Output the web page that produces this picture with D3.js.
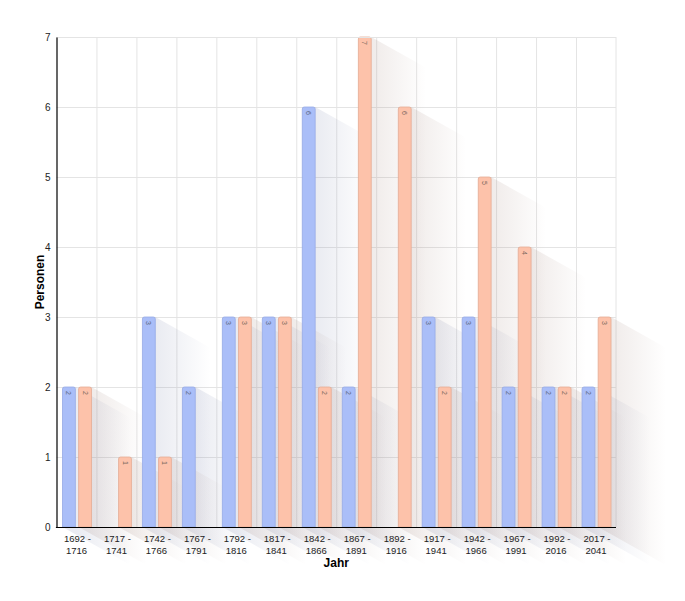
<!DOCTYPE html>
<html>
<head>
<meta charset="utf-8">
<script src="https://cdn.jsdelivr.net/npm/d3@7"></script>
<style>
body{margin:0;background:#fff;}
text{font-family:"Liberation Sans",Arial,sans-serif;}
</style>
</head>
<body>
<svg id="chart" width="685" height="601"></svg>
<script>
var categories=[['1692 -','1716'],['1717 -','1741'],['1742 -','1766'],['1767 -','1791'],
    ['1792 -','1816'],['1817 -','1841'],['1842 -','1866'],['1867 -','1891'],['1892 -','1916'],
    ['1917 -','1941'],['1942 -','1966'],['1967 -','1991'],['1992 -','2016'],['2017 -','2041']];
var seriesA=[2,null,3,2,3,3,6,2,null,3,3,2,2,2];
var seriesB=[2,1,1,null,3,3,2,7,6,2,5,4,2,3];
var yTicks=[0,1,2,3,4,5,6,7];

(function() {
var series=[
    {values:seriesA,fill:'#aabef8',stroke:'#97abe6',shadow:'rgb(120,130,170)',label:'#5a6680'},
    {values:seriesB,fill:'#fdc2aa',stroke:'#e4ac95',shadow:'rgb(160,130,120)',label:'#806a60'}
];

var svg=d3.select('#chart');
var pLeft=56.5, pRight=616, pTop=37, pBottom=527;

var x0=d3.scaleBand().domain(d3.range(categories.length)).range([pLeft,pRight]).padding(0);
var x1=d3.scaleBand().domain([0,1]).range([6,35]).paddingInner(0.2);
var y=d3.scaleLinear().domain([0,7]).range([pBottom,pTop]);

var defs=svg.append('defs');

// grid
var grid=svg.append('g');
grid.selectAll('line.h').data(yTicks.slice(1)).enter().append('line')
    .attr('x1',pLeft).attr('x2',pRight)
    .attr('y1',function(d){return y(d)+0.5;}).attr('y2',function(d){return y(d)+0.5;})
    .style('stroke','#e4e4e4');
grid.selectAll('line.v').data(d3.range(1,categories.length+1)).enter().append('line')
    .attr('x1',function(d){return d<categories.length?x0(d)+0.5:pRight;})
    .attr('x2',function(d){return d<categories.length?x0(d)+0.5:pRight;})
    .attr('y1',pTop).attr('y2',pBottom)
    .style('stroke','#e4e4e4');

// shadows
var dx=100, dy=56;
var shadows=svg.append('g');
var bars=svg.append('g');
series.forEach(function(s,si) {
    s.values.forEach(function(v,i) {
        if (v===null) return;
        var xl=x0(i)+x1(si), xr=xl+x1.bandwidth();
        var yt=y(v), yb=y(0);
        var gid='sg'+si+'_'+i;
        var g=defs.append('linearGradient').attr('id',gid)
            .attr('gradientUnits','userSpaceOnUse')
            .attr('x1',xr).attr('y1',0).attr('x2',xr+dx*0.55).attr('y2',0);
        g.append('stop').attr('offset',0).attr('stop-color',s.shadow).attr('stop-opacity',0.16);
        g.append('stop').attr('offset',1).attr('stop-color',s.shadow).attr('stop-opacity',0);
        var pts=[[xl,yt],[xr,yt],[xr+dx,yt+dy],[xr+dx,yb+dy],[xl+dx,yb+dy],[xl,yb]];
        shadows.append('path')
            .attr('d','M'+pts.map(function(p){return p.join(',');}).join('L')+'Z')
            .style('fill','url(#'+gid+')');
    });
});

series.forEach(function(s,si) {
    s.values.forEach(function(v,i) {
        if (v===null) return;
        var xl=x0(i)+x1(si), w=x1.bandwidth();
        var yt=y(v), yb=y(0);
        var r=2;
        bars.append('path')
            .attr('d','M'+xl+','+yb+'V'+(yt+r)+'Q'+xl+','+yt+' '+(xl+r)+','+yt+
                'H'+(xl+w-r)+'Q'+(xl+w)+','+yt+' '+(xl+w)+','+(yt+r)+'V'+yb+'Z')
            .style('fill',s.fill).style('stroke',s.stroke).style('stroke-width',0.8);
        bars.append('text')
            .attr('transform','translate('+(xl+w/2-2.5)+','+(yt+4)+') rotate(90)')
            .style('font-size','7px').style('fill',s.label)
            .text(v);
    });
});

// border top
svg.append('line').attr('x1',pLeft).attr('x2',pRight).attr('y1',pTop+0.5).attr('y2',pTop+0.5).style('stroke','#e4e4e4');

// axes
var yAxis=d3.axisLeft(y).tickValues(yTicks).tickSize(0).tickPadding(6).tickFormat(d3.format('d'));
var gy=svg.append('g').attr('transform','translate('+pLeft+',0)').call(yAxis);
gy.select('.domain').style('stroke','#000').style('stroke-width',1.2);
gy.selectAll('text').style('font-size','10px').style('fill','#222').style('font-family','"Liberation Sans",Arial,sans-serif');

svg.append('line').attr('x1',pLeft-0.6).attr('x2',pRight).attr('y1',pBottom+0.5).attr('y2',pBottom+0.5)
    .style('stroke','#000').style('stroke-width',1.2);

var xlab=svg.append('g');
categories.forEach(function(c,i) {
    var cx=x0(i)+x0.bandwidth()/2;
    var t=xlab.append('text')
        .attr('x',cx).attr('y',pBottom+15)
        .style('text-anchor','middle').style('font-size','9.5px').style('fill','#222');
    t.append('tspan').attr('x',cx+1).attr('dy',0).text(c[0]);
    t.append('tspan').attr('x',cx).attr('dy',11.5).text(c[1]);
});

svg.append('text')
    .attr('x',(pLeft+pRight)/2).attr('y',567)
    .style('text-anchor','middle').style('font-size','12px').style('font-weight','bold')
    .text('Jahr');
svg.append('text')
    .attr('transform','translate(44,'+((pTop+pBottom)/2)+') rotate(-90)')
    .style('text-anchor','middle').style('font-size','12px').style('font-weight','bold')
    .text('Personen');
})();
</script>
</body>
</html>
